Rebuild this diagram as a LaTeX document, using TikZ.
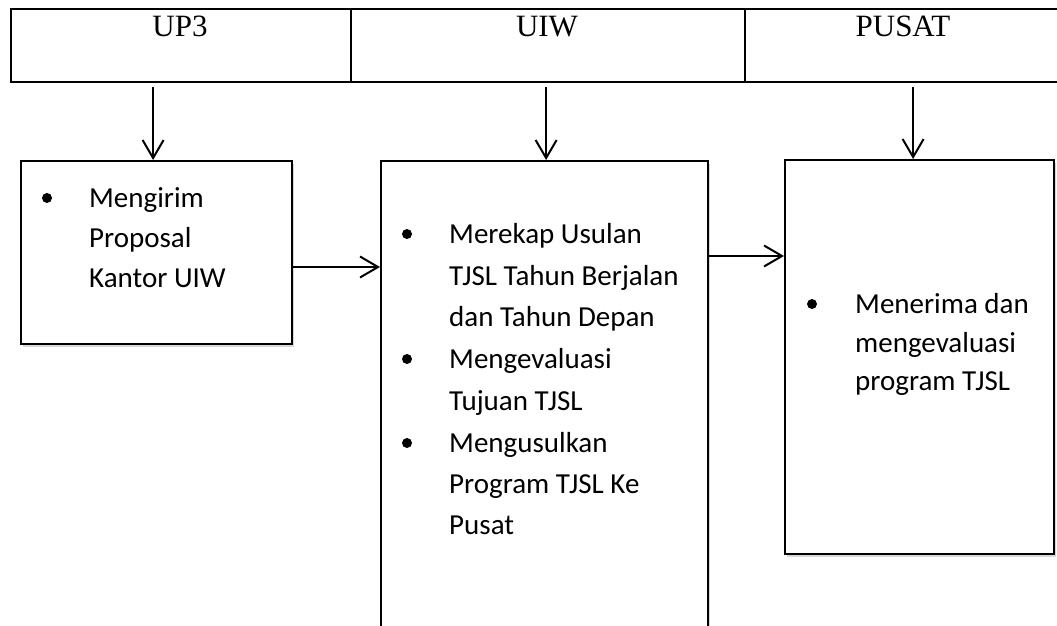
\documentclass[tikz,border=0pt]{standalone}
\usepackage{fontspec}
\setmainfont{Liberation Serif}
\newfontfamily\carlito{Carlito}
\usetikzlibrary{arrows.meta,shadows}
\begin{document}
\begin{tikzpicture}[x=1pt,y=-1pt,
  cell/.style={draw,line width=2pt,minimum height=73pt,anchor=north west,inner sep=0},
  box/.style={draw,line width=2.2pt,fill=white,anchor=north west,inner sep=0,
    drop shadow={opacity=0.3,shadow xshift=2pt,shadow yshift=-3pt}},
  head/.style={anchor=base,inner sep=0,font=\fontsize{31}{36}\selectfont},
  txt/.style={anchor=base west,inner sep=0,font=\carlito\fontsize{29}{35}\selectfont},
  dot/.style={circle,fill,inner sep=0,minimum size=10pt},
  arr/.style={line width=2pt,-{Straight Barb[length=18pt,width=21pt,line width=2pt]}}]
\useasboundingbox (0,0) rectangle (1057,626);
\clip (0,0) rectangle (1057,626);
% header
\node[cell,minimum width=340pt] (h1) at (10,8) {};
\node[cell,minimum width=394pt] (h2) at (350,8) {};
\node[cell,minimum width=318pt] (h3) at (744,8) {};
\node[head] (l1) at (180,37) {UP3};
\node[head] (l2) at (547,37) {UIW};
\node[head] (l3) at (903,37) {PUSAT};
% boxes
\node[box,minimum width=271pt,minimum height=183pt] (b1) at (20,160) {};
\node[box,minimum width=327pt,minimum height=520pt] (b2) at (380,160) {};
\node[box,minimum width=269pt,minimum height=394pt] (b3) at (784,159) {};
% box 1 text
\node[dot] (d1) at (47,198) {};
\node[txt] (t11) at (89,207) {Mengirim};
\node[txt] (t12) at (89,247) {Proposal};
\node[txt] (t13) at (89,287) {Kantor UIW};
% box 2 text
\node[dot] (d21) at (407,234) {};
\node[dot] (d22) at (407,359) {};
\node[dot] (d23) at (407,443) {};
\node[txt] (t21) at (449,243) {Merekap Usulan};
\node[txt] (t22) at (449,285) {TJSL Tahun Berjalan};
\node[txt] (t23) at (449,326) {dan Tahun Depan};
\node[txt] (t24) at (449,368) {Mengevaluasi};
\node[txt] (t25) at (449,410) {Tujuan TJSL};
\node[txt] (t26) at (449,452) {Mengusulkan};
\node[txt] (t27) at (449,493) {Program TJSL Ke};
\node[txt] (t28) at (449,534) {Pusat};
% box 3 text
\node[dot] (d3) at (812,304) {};
\node[txt] (t31) at (855,313) {Menerima dan};
\node[txt] (t32) at (855,352) {mengevaluasi};
\node[txt] (t33) at (855,390) {program TJSL};
% connectors
\draw[arr] ([xshift=-3.5pt,yshift=-4pt]h1.south -| b1.north) -- ([xshift=-3.5pt]b1.north);
\draw[arr] ([xshift=1.5pt,yshift=-4pt]h2.south -| b2.north) -- ([xshift=1.5pt]b2.north);
\draw[arr] ([xshift=-6.5pt,yshift=-4pt]h3.south -| b3.north) -- ([xshift=-6.5pt]b3.north);
\coordinate (r1) at (0,267);
\coordinate (r2) at (0,256);
\draw[arr] (b1.east |- r1) -- (b2.west |- r1);
\draw[arr] (b2.east |- r2) -- (b3.west |- r2);
\end{tikzpicture}
\end{document}
